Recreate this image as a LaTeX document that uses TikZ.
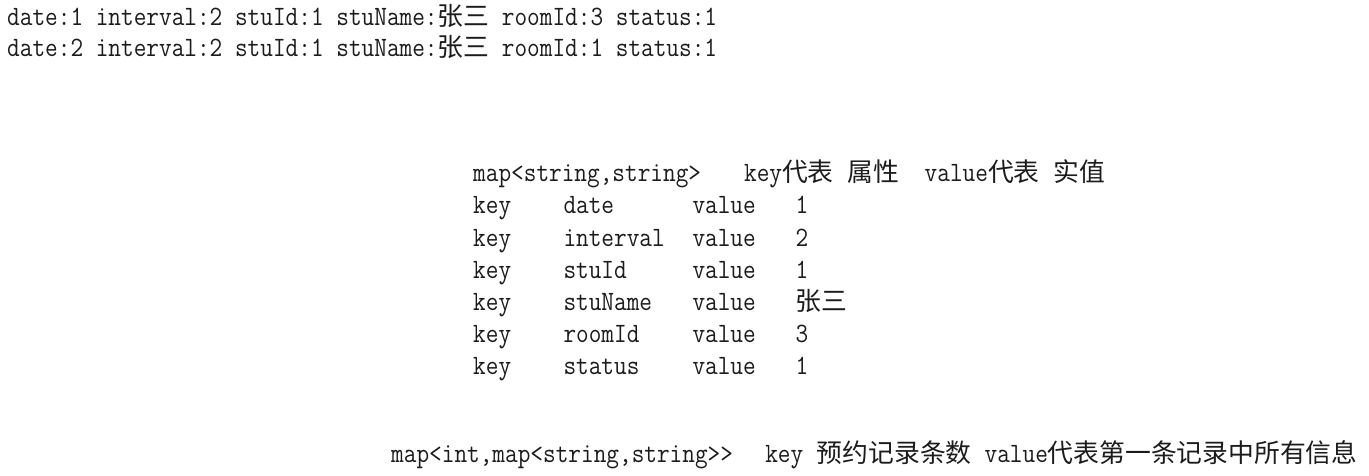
\documentclass[tikz,border=0pt]{standalone}
\usepackage{fontspec}
\newfontfamily\cjk[Scale=1.05]{Noto Sans CJK SC}
\newfontfamily\codefont[FakeStretch=0.878]{Latin Modern Mono}
\usetikzlibrary{calc,positioning}
\definecolor{ink}{RGB}{28,28,28}
\newcommand{\cw}{12.9}
\tikzset{
  txt/.style={anchor=base west, inner sep=0pt, text=ink,
    font=\codefont\fontsize{28}{32}\selectfont}
}

\begin{document}
\begin{tikzpicture}[x=1pt,y=-1pt]
\useasboundingbox[fill=white] (0,0) rectangle (1369,476);

% two booking records
\node[txt] (rec1) at (7,26) {date:1 interval:2 stuId:1 stuName:{\cjk\fontsize{24.57}{30}\selectfont 张三} roomId:3 status:1};
\node[txt] (rec2) at (7,57) {date:2 interval:2 stuId:1 stuName:{\cjk\fontsize{24.57}{30}\selectfont 张三} roomId:1 status:1};

% inner map
\coordinate (inner) at (473,182);
\node[txt] (mapss) at (inner) {map<string,string>};
\node[txt] (keyhd) at ($(inner) + (21*\cw,0)$) {key{\cjk\fontsize{24.57}{30}\selectfont 代表}};
\node[txt] (attrhd) at ($(inner) + (29*\cw,0)$) {{\cjk\fontsize{24.57}{30}\selectfont 属性}};
\node[txt] (valhd) at ($(inner) + (35*\cw,0)$) {value{\cjk\fontsize{24.57}{30}\selectfont 代表}};
\node[txt] (realhd) at ($(inner) + (45*\cw,0)$) {{\cjk\fontsize{24.57}{30}\selectfont 实值}};

\foreach \attr/\val [count=\i] in {date/1, interval/2, stuId/1, stuName/{\cjk\fontsize{24.57}{30}\selectfont 张三}, roomId/3, status/1} {
  \node[txt] (key\i) at ($(inner) + (0,32*\i)$) {key};
  \node[txt] (attr\i) at ($(inner) + (7*\cw,32*\i)$) {\attr};
  \node[txt] (value\i) at ($(inner) + (17*\cw,32*\i)$) {value};
  \node[txt] (val\i) at ($(inner) + (25*\cw,32*\i)$) {\val};
}

% outer map
\coordinate (outer) at (391,462);
\node[txt] (mapim) at (outer) {map<int,map<string,string>{}>};
\node[txt] (keyout) at ($(outer) + (29*\cw,0)$) {key};
\node[txt] (cntout) at ($(outer) + (33*\cw,0)$) {{\cjk\fontsize{24.57}{30}\selectfont 预约记录条数}};
\node[txt] (valout) at ($(outer) + (46*\cw,0)$) {value{\cjk\fontsize{24.57}{30}\selectfont 代表第一条记录中所有信息}};
\end{tikzpicture}
\end{document}
